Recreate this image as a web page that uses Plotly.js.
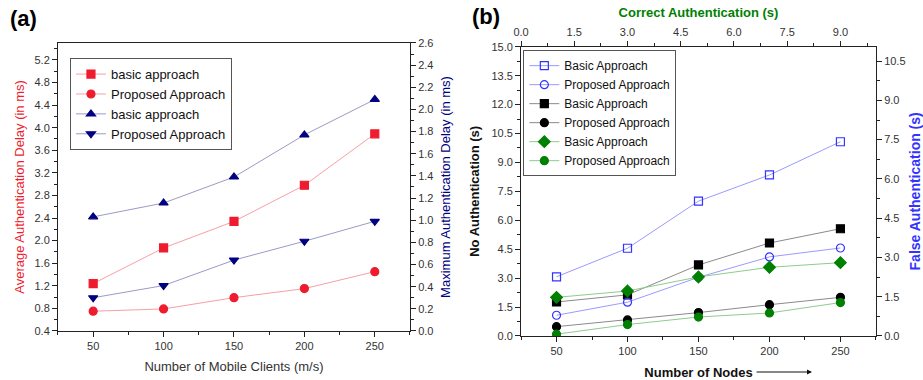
<!DOCTYPE html>
<html><head><meta charset="utf-8">
<script src="https://cdn.plot.ly/plotly-3.0.1.min.js"></script>
<style>html,body{margin:0;padding:0;background:#fff}#chart{width:923px;height:380px}</style>
</head><body><div id="chart"></div>
<script>
// Panel (a)
const clientsA = [50, 100, 150, 200, 250];
const avgBasic = [1.24, 1.87, 2.34, 2.98, 3.89];
const avgProposed = [0.75, 0.79, 0.99, 1.15, 1.45];
const maxBasic = [1.03, 1.155, 1.39, 1.77, 2.09];
const maxProposed = [0.30, 0.41, 0.64, 0.81, 0.99];
// Panel (b)
const nodesB = [50, 100, 150, 200, 250];
const correctX = [1, 3, 5, 7, 9];
const falseBasic = [2.26, 3.35, 5.15, 6.15, 7.42];
const falseProposed = [0.79, 1.29, 2.24, 3.02, 3.36];
const noAuthBasic = [1.76, 2.13, 3.68, 4.82, 5.56];
const noAuthProposed = [0.48, 0.83, 1.21, 1.62, 2.0];
const correctBasic = [2.0, 2.33, 3.06, 3.56, 3.80];
const correctProposed = [0.09, 0.59, 0.98, 1.19, 1.73];

const FONT = 'Liberation Sans, Arial, sans-serif';
const red = '#ee1c2e', redLine = '#f5a0a6';
const navy = '#000080', navyLine = '#9a9ac8';
const blue = '#3333ff', blueLine = '#9a9aff';
const black = '#000000', grayLine = '#8a8a8a';
const green = '#008000', greenLine = '#8ccc8c';

function tr(x, y, name, col, lcol, sym, xa, ya, leg, size) {
  return {x: x, y: y, name: name, type: 'scatter', mode: 'lines+markers', xaxis: xa, yaxis: ya, legend: leg,
    line: {color: lcol, width: 1}, marker: {color: col, symbol: sym, size: size || 8, line: {color: col, width: 1.2}}};
}

const data = [
  tr(clientsA, avgBasic, 'basic approach', red, redLine, 'square', 'x', 'y', 'legend'),
  tr(clientsA, avgProposed, 'Proposed Approach', red, redLine, 'circle', 'x', 'y', 'legend'),
  tr(clientsA, maxBasic, 'basic approach', navy, navyLine, 'triangle-up', 'x', 'y2', 'legend'),
  tr(clientsA, maxProposed, 'Proposed Approach', navy, navyLine, 'triangle-down', 'x', 'y2', 'legend'),
  tr(nodesB, falseBasic, 'Basic Approach', blue, blueLine, 'square-open', 'x3', 'y4', 'legend2'),
  tr(nodesB, falseProposed, 'Proposed Approach', blue, blueLine, 'circle-open', 'x3', 'y4', 'legend2'),
  tr(nodesB, noAuthBasic, 'Basic Approach', black, grayLine, 'square', 'x3', 'y3', 'legend2'),
  tr(nodesB, noAuthProposed, 'Proposed Approach', black, grayLine, 'circle', 'x3', 'y3', 'legend2'),
  tr(correctX, correctBasic, 'Basic Approach', green, greenLine, 'diamond', 'x4', 'y3', 'legend2', 9),
  tr(correctX, correctProposed, 'Proposed Approach', green, greenLine, 'circle', 'x4', 'y3', 'legend2')
];

const tickF = {family: FONT, size: 11, color: '#333'};
const base = {showgrid: false, zeroline: false, showline: true, linecolor: '#222', linewidth: 1, tickfont: tickF,
  ticks: 'outside', ticklen: 5, tickcolor: '#222', automargin: false};

const layout = {
  width: 923, height: 380, margin: {l: 0, r: 0, t: 0, b: 0},
  paper_bgcolor: '#fff', plot_bgcolor: '#fff', font: {family: FONT},
  showlegend: true,
  xaxis: Object.assign({}, base, {domain: [0.0628, 0.4442], anchor: 'y', range: [25, 275], tick0: 50, dtick: 50,
    minor: {ticks: 'outside', ticklen: 3, dtick: 25, tick0: 25, tickcolor: '#222'}, mirror: true,
    title: {text: 'Number of Mobile Clients (m/s)', font: {family: FONT, size: 13, color: '#333'}, standoff: 10}}),
  xaxis2: Object.assign({}, base, {overlaying: 'x', side: 'top', anchor: 'y', range: [25, 275], tick0: 50, dtick: 50,
    ticks: 'inside', showticklabels: false, minor: {ticks: 'inside', ticklen: 3, dtick: 25, tick0: 25, tickcolor: '#222'}}),
  yaxis: Object.assign({}, base, {domain: [0.129, 0.887], anchor: 'x', range: [0.4, 5.5], tick0: 0.4, dtick: 0.4, tickformat: '.1f',
    minor: {ticks: 'outside', ticklen: 3, dtick: 0.2, tick0: 0.4, tickcolor: '#222'},
    title: {text: 'Average Authentication Delay (in ms)', font: {family: FONT, size: 13, color: red}, standoff: 6}}),
  yaxis2: Object.assign({}, base, {overlaying: 'y', side: 'right', anchor: 'x', range: [0, 2.6], tick0: 0, dtick: 0.2, tickformat: '.1f',
    minor: {ticks: 'outside', ticklen: 3, dtick: 0.1, tick0: 0, tickcolor: '#222'},
    title: {text: 'Maximum Authentication Delay (in ms)', font: {family: FONT, size: 13, color: navy}, standoff: 8}}),

  xaxis3: Object.assign({}, base, {domain: [0.5645, 0.949], anchor: 'y3', range: [25, 275], tick0: 50, dtick: 50,
    minor: {ticks: 'outside', ticklen: 3, dtick: 25, tick0: 25, tickcolor: '#222'},
    title: {text: '<b>Number of Nodes</b>', font: {family: FONT, size: 13, color: '#111'}, standoff: 13}}),
  xaxis4: Object.assign({}, base, {overlaying: 'x3', side: 'top', anchor: 'y3', range: [0, 10], tick0: 0, dtick: 1.5, tickformat: '.1f',
    minor: {ticks: 'outside', ticklen: 3, dtick: 0.75, tick0: 0, tickcolor: '#222'},
    title: {text: '<b>Correct Authentication (s)</b>', font: {family: FONT, size: 13, color: green}, standoff: 5}}),
  yaxis3: Object.assign({}, base, {domain: [0.116, 0.877], anchor: 'x3', range: [0, 15], tick0: 0, dtick: 1.5, tickformat: '.1f',
    minor: {ticks: 'outside', ticklen: 3, dtick: 0.75, tick0: 0, tickcolor: '#222'},
    title: {text: '<b>No Authentication (s)</b>', font: {family: FONT, size: 13, color: '#111'}, standoff: 8}}),
  yaxis4: Object.assign({}, base, {overlaying: 'y3', side: 'right', anchor: 'x3', range: [0, 11.05], tick0: 0, dtick: 1.5, tickformat: '.1f',
    minor: {ticks: 'outside', ticklen: 3, dtick: 0.75, tick0: 0, tickcolor: '#222'},
    title: {text: '<b>False Authentication (s)</b>', font: {family: FONT, size: 14, color: blue}, standoff: 8}}),

  legend: {x: 0.0758, y: 0.847, xanchor: 'left', yanchor: 'top', bgcolor: '#fff', bordercolor: '#555', borderwidth: 1,
    font: {family: FONT, size: 13, color: '#111'}, tracegroupgap: 0, itemwidth: 30},
  legend2: {x: 0.567, y: 0.868, xanchor: 'left', yanchor: 'top', bgcolor: '#fff', bordercolor: '#555', borderwidth: 1,
    font: {family: FONT, size: 12, color: '#111'}, tracegroupgap: 0, itemwidth: 30},

  annotations: [
    {text: '<b>(a)</b>', xref: 'paper', yref: 'paper', x: 8 / 923, y: 1 - 4 / 380, xanchor: 'left', yanchor: 'top', showarrow: false,
      font: {family: FONT, size: 22, color: '#000'}},
    {text: '<b>(b)</b>', xref: 'paper', yref: 'paper', x: 470 / 923, y: 1 - 2 / 380, xanchor: 'left', yanchor: 'top', showarrow: false,
      font: {family: FONT, size: 22, color: '#000'}},
    {text: '', xref: 'paper', yref: 'paper', x: 812 / 923, y: 1 - 372 / 380, ax: -57, ay: 0, showarrow: true,
      arrowhead: 2, arrowsize: 1, arrowwidth: 1, arrowcolor: '#111'}
  ]
};

Plotly.newPlot('chart', data, layout, {staticPlot: true});
</script></body></html>
